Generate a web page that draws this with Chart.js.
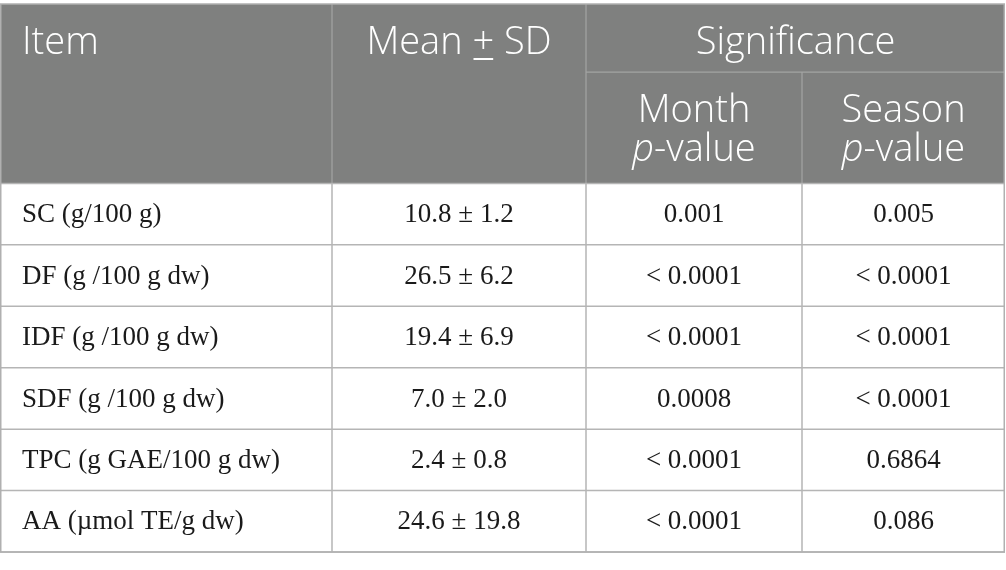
<!DOCTYPE html>
<html>
<head>
<meta charset="utf-8">
<script src="https://cdn.jsdelivr.net/npm/chart.js@4"></script>
<style>
  html, body { margin: 0; padding: 0; background: #fff; }
  #wrap { width: 1006px; height: 570px; position: relative; }
</style>
</head>
<body>
<div id="wrap"><canvas id="tableChart"></canvas></div>
<script>
// table content
const items = ['SC (g/100 g)', 'DF (g /100 g dw)', 'IDF (g /100 g dw)', 'SDF (g /100 g dw)', 'TPC (g GAE/100 g dw)', 'AA (\u00b5mol TE/g dw)'];
const means = ['10.8', '26.5', '19.4', '7.0', '2.4', '24.6'];
const sds = ['1.2', '6.2', '6.9', '2.0', '0.8', '19.8'];
const monthP = ['0.001', '< 0.0001', '< 0.0001', '0.0008', '< 0.0001', '< 0.0001'];
const seasonP = ['0.005', '< 0.0001', '< 0.0001', '< 0.0001', '0.6864', '0.086'];
const headers = ['Item', 'Mean', 'SD', 'Significance'];
const subHeaders = ['Month', 'Season'];

// layout: column widths (x units) and header height in row units
const colWidths = [332, 254, 216, 203];
const headerRows = 2.92;
const subLine = -1.81;

const colEdges = colWidths.reduce((acc, w) => { acc.push(acc[acc.length - 1] + w); return acc; }, [0]);

const headerFont = '300 38px "Open Sans", Lato, sans-serif';
const headerItalic = 'italic 300 38px "Open Sans", Lato, sans-serif';
const bodyFont = '27px "Liberation Serif", "DejaVu Serif", serif';

const tablePlugin = {
	id: 'tablePlugin',
	afterDraw(chart) {
		const ctx = chart.ctx;
		const xs = chart.scales.x;
		const ys = chart.scales.y;
		const X = (v) => xs.getPixelForValue(v);
		const Y = (v) => ys.getPixelForValue(v);
		const left = X(colEdges[0]);
		const right = X(colEdges[colEdges.length - 1]);
		const top = Y(-headerRows);
		const hBottom = Y(0);
		const bottom = Y(items.length);
		const subY = Y(subLine);

		ctx.save();
		// header background
		ctx.fillStyle = '#7f807f';
		ctx.fillRect(left, top, right - left, hBottom - top);

		// header separators
		ctx.strokeStyle = '#a3a4a3';
		ctx.lineWidth = 1.2;
		ctx.beginPath();
		ctx.moveTo(X(colEdges[1]), top); ctx.lineTo(X(colEdges[1]), hBottom);
		ctx.moveTo(X(colEdges[2]), top); ctx.lineTo(X(colEdges[2]), hBottom);
		ctx.moveTo(X(colEdges[3]), subY); ctx.lineTo(X(colEdges[3]), hBottom);
		ctx.moveTo(X(colEdges[2]), subY); ctx.lineTo(right, subY);
		ctx.stroke();

		// body grid
		ctx.strokeStyle = '#b5b5b5';
		ctx.lineWidth = 1.5;
		ctx.beginPath();
		for (let i = 0; i <= items.length; i++) {
			ctx.moveTo(left, Y(i)); ctx.lineTo(right, Y(i));
		}
		for (let c = 1; c < colEdges.length - 1; c++) {
			ctx.moveTo(X(colEdges[c]), hBottom); ctx.lineTo(X(colEdges[c]), bottom);
		}
		ctx.stroke();

		// outer border
		ctx.strokeStyle = '#b0b0b0';
		ctx.lineWidth = 1.5;
		ctx.strokeRect(left + 0.75, top, right - left - 1.5, bottom - top);

		// header text
		ctx.fillStyle = '#ffffff';
		ctx.textBaseline = 'alphabetic';
		ctx.font = headerFont;
		const h1 = top + 50;
		ctx.textAlign = 'left';
		ctx.fillText(headers[0], left + 22, h1);

		// "Mean + SD" with underlined plus
		const meanCx = (X(colEdges[1]) + X(colEdges[2])) / 2;
		const wMean = ctx.measureText(headers[1] + ' ').width;
		const wPlus = ctx.measureText('+').width;
		const wSd = ctx.measureText(' ' + headers[2]).width;
		const mx = meanCx - (wMean + wPlus + wSd) / 2;
		ctx.fillText(headers[1] + ' ', mx, h1);
		ctx.fillText('+', mx + wMean, h1);
		ctx.fillText(' ' + headers[2], mx + wMean + wPlus, h1);
		ctx.fillRect(mx + wMean + 1, h1 + 4, wPlus - 2, 2);

		ctx.textAlign = 'center';
		ctx.fillText(headers[3], (X(colEdges[2]) + right) / 2, h1);

		const drawPValue = (cx, baseline) => {
			ctx.textAlign = 'left';
			ctx.font = headerItalic;
			const wp = ctx.measureText('p').width;
			ctx.font = headerFont;
			const wr = ctx.measureText('-value').width;
			const x0 = cx - (wp + wr) / 2;
			ctx.font = headerItalic;
			ctx.fillText('p', x0, baseline);
			ctx.font = headerFont;
			ctx.fillText('-value', x0 + wp, baseline);
		};
		for (let s = 0; s < subHeaders.length; s++) {
			const cx = (X(colEdges[2 + s]) + X(colEdges[3 + s])) / 2;
			ctx.textAlign = 'center';
			ctx.font = headerFont;
			ctx.fillText(subHeaders[s], cx, subY + 50);
			drawPValue(cx, subY + 89);
		}

		// body text
		ctx.fillStyle = '#1a1a1a';
		ctx.font = bodyFont;
		ctx.textBaseline = 'middle';
		const cols = [items, means.map((m, i) => m + ' \u00b1 ' + sds[i]), monthP, seasonP];
		for (let i = 0; i < items.length; i++) {
			const cy = (Y(i) + Y(i + 1)) / 2 + 1;
			for (let c = 0; c < cols.length; c++) {
				if (c === 0) {
					ctx.textAlign = 'left';
					ctx.fillText(cols[c][i], left + 22, cy);
				} else {
					ctx.textAlign = 'center';
					ctx.fillText(cols[c][i], (X(colEdges[c]) + X(colEdges[c + 1])) / 2, cy);
				}
			}
		}
		ctx.restore();
	}
};

(() => {
	new Chart(document.getElementById('tableChart'), {
		type: 'scatter',
		data: { datasets: [] },
		options: {
			responsive: true,
			maintainAspectRatio: false,
			animation: false,
			events: [],
			layout: { padding: { top: 4, bottom: 18, left: 0, right: 1 } },
			plugins: { legend: { display: false }, tooltip: { enabled: false } },
			scales: {
				x: { type: 'linear', display: false, min: colEdges[0], max: colEdges[colEdges.length - 1] },
				y: { type: 'linear', display: false, reverse: true, min: -headerRows, max: items.length }
			}
		},
		plugins: [tablePlugin]
	});
})();
</script>
</body>
</html>
